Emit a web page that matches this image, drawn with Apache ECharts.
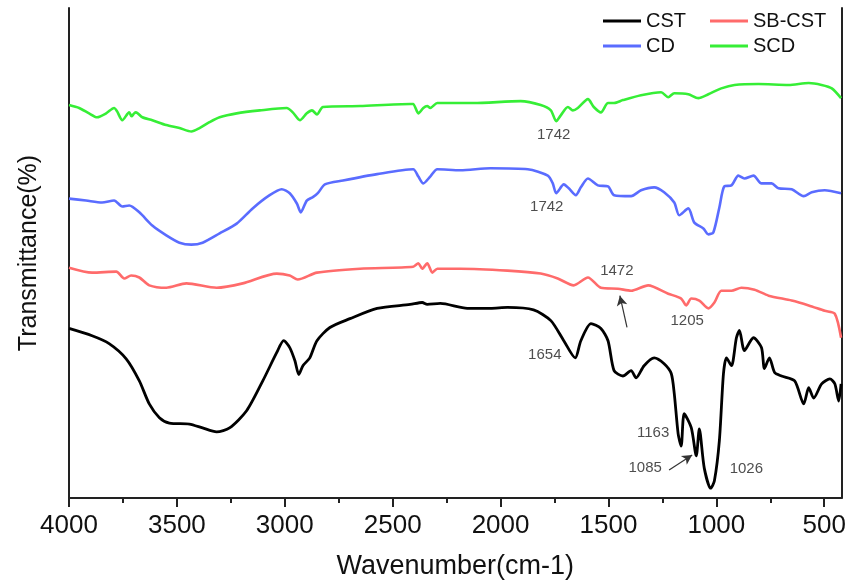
<!DOCTYPE html>
<html>
<head>
<meta charset="utf-8">
<script src="https://cdn.jsdelivr.net/npm/echarts@6/dist/echarts.min.js"></script>
<style>html,body{margin:0;padding:0;background:#fff}#c{width:847px;height:580px}</style>
</head>
<body>
<div id="c"></div>
<script>
// ---- data (wavenumber cm-1, transmittance in arbitrary offset units) ----
var tickValues = [4000, 3500, 3000, 2500, 2000, 1500, 1000, 500];
var minorTickValues = [3750, 3250, 2750, 2250, 1750, 1250, 750];

var cstWn = [4000,3893,3814,3735,3674,3628,3581,3535,3442,3381,3316,3256,3177,3102,3037,3005,2977,2953,2935,2916,2884,2851,2791,2698,2572,2419,2363,2340,2279,2154,2047,1968,1847,1767,1707,1654,1628,1581,1535,1502,1474,1433,1395,1372,1335,1288,1242,1209,1195,1177,1163,1149,1116,1093,1079,1056,1026,1009,986,967,953,930,907,893,870,828,791,777,754,730,698,637,595,572,549,512,474,451,433,422];
var cstT = [34.6,33.1,31.5,28.4,23.9,19.2,16.4,15.3,15.1,14.3,13.5,14.3,17.8,23.9,29.7,32.1,30.7,28.0,25.2,27.0,28.6,32.1,34.8,36.6,38.7,39.5,39.9,39.5,39.7,38.7,38.7,38.9,38.4,36.2,32.1,28.6,32.1,35.6,34.6,32.1,26.0,24.9,26.0,24.5,27.0,28.6,27.4,25.4,21.3,13.1,10.6,17.2,14.3,8.6,14.1,6.1,2.0,3.5,11.7,25.4,28.6,27.0,32.7,34.2,30.1,32.7,30.7,26.4,28.6,25.6,24.9,23.9,19.2,22.5,20.4,23.3,24.3,23.3,19.8,23.3];

var sbcstWn = [4000,3893,3781,3744,3712,3674,3628,3549,3456,3316,3195,3037,2977,2940,2851,2651,2405,2381,2363,2340,2316,2293,2186,1968,1814,1735,1661,1595,1535,1456,1395,1316,1223,1163,1140,1116,1079,1037,1009,977,930,884,823,758,651,572,498,451,422];
var sbcstT = [47.0,46.0,46.2,44.8,45.4,45.0,43.4,42.9,43.8,42.9,43.8,45.8,45.4,44.6,46.0,46.8,47.2,47.9,46.8,47.9,46.0,46.8,46.8,46.4,45.8,44.8,43.4,45.0,42.9,42.7,42.3,43.4,41.7,40.7,39.3,40.7,40.3,38.7,39.9,42.3,42.3,42.9,42.5,41.3,40.3,39.3,38.2,37.6,32.7];

var cdWn = [4000,3921,3847,3791,3753,3721,3674,3614,3549,3488,3433,3381,3302,3223,3149,3070,3014,2977,2944,2926,2898,2870,2847,2814,2730,2572,2405,2381,2358,2326,2293,2186,2047,1874,1781,1758,1742,1707,1684,1651,1628,1595,1549,1502,1474,1395,1349,1288,1242,1195,1172,1130,1102,1060,1037,1014,986,963,930,898,870,828,791,744,712,651,595,558,498,422];
var cdT = [61.1,60.7,60.3,60.7,59.5,59.7,58.3,55.6,53.6,52.1,51.7,52.1,54.0,56.0,59.1,61.8,63.0,62.2,60.1,58.3,60.7,61.4,62.2,64.0,64.8,66.1,67.1,65.6,64.2,65.6,67.1,66.9,67.3,67.1,65.8,64.2,62.2,64.0,63.2,61.8,63.4,65.2,63.8,63.6,61.8,61.6,62.8,63.4,62.4,60.3,57.7,59.1,56.2,55.0,53.8,54.2,59.3,63.6,63.8,65.8,65.2,65.8,64.2,64.2,63.2,63.0,61.6,62.4,62.8,62.2];

var scdWn = [4000,3953,3907,3870,3828,3791,3777,3753,3721,3710,3698,3690,3660,3614,3549,3488,3433,3395,3349,3302,3223,3116,2991,2963,2930,2898,2874,2851,2823,2651,2419,2405,2381,2358,2340,2326,2293,2186,2126,1907,1814,1767,1742,1721,1688,1665,1642,1595,1568,1535,1502,1474,1433,1349,1256,1223,1195,1130,1084,1037,977,916,805,665,572,512,465,422];
var scdT = [80.2,79.6,78.5,77.7,78.5,79.6,78.9,77.1,78.7,77.9,78.5,78.7,77.7,77.1,76.1,75.5,74.8,75.5,76.7,77.7,78.5,79.1,79.6,78.7,77.1,78.5,79.1,78.3,79.8,80.0,80.4,80.4,78.5,79.6,80.0,79.6,80.6,80.6,80.6,81.0,80.2,79.1,76.9,78.1,79.8,79.1,79.6,81.4,79.8,78.7,80.6,80.6,81.2,82.2,82.8,81.8,82.6,82.4,81.6,82.4,83.6,84.3,84.5,84.3,84.7,84.3,83.6,81.6];

// peak annotations (text, wavenumber, transmittance)
var annoText = ['1742','1742','1472','1205','1654','1163','1085','1026'];
var annoWn   = [1754, 1786, 1461, 1135, 1795, 1293, 1330, 861];
var annoT    = [74.2, 59.5, 46.4, 36.2, 29.2, 13.3, 6.1, 5.9];
// arrows: [fromWn, fromT, toWn, toT]
var arrows = [[1414, 34.8, 1447, 41.3], [1219, 5.7, 1112, 8.8]];

function pairs(wn, t) { return wn.map(function (w, i) { return [w, t[i]]; }); }

var FONT = 'Liberation Sans, Arial, sans-serif';
var chart = echarts.init(document.getElementById('c'));

function lineSeries(name, wn, t, color, width) {
  return {
    name: name, type: 'line', data: pairs(wn, t), showSymbol: false, smooth: 0.25,
    lineStyle: { color: color, width: width }, itemStyle: { color: color },
    silent: true, animation: false, z: 3
  };
}

var option = {
  animation: false,
  backgroundColor: '#ffffff',
  grid: { left: 69, right: 5.5, top: 8, bottom: 82, containLabel: false, outerBoundsMode: 'none' },
  legend: [
    { data: ['CST', 'CD'], orient: 'vertical', left: 603, top: 11, padding: 0, itemGap: 5,
      icon: 'rect', itemWidth: 38, itemHeight: 3, itemTextGap: 7,
      textStyle: { fontFamily: FONT, fontSize: 20, color: '#111' } },
    { data: ['SB-CST', 'SCD'], orient: 'vertical', left: 710, top: 11, padding: 0, itemGap: 5,
      icon: 'rect', itemWidth: 38, itemHeight: 3, itemTextGap: 7,
      textStyle: { fontFamily: FONT, fontSize: 20, color: '#111' } }
  ],
  xAxis: [
    { type: 'value', position: 'bottom', min: 420, max: 4000, inverse: true,
      name: 'Wavenumber(cm-1)', nameLocation: 'middle', nameGap: 55,
      nameTextStyle: { fontFamily: FONT, fontSize: 27, color: '#111' },
      axisLine: { show: true, lineStyle: { color: '#222', width: 2 } },
      axisTick: { show: true, inside: false, length: 9, customValues: tickValues, lineStyle: { color: '#222', width: 2 } },
      axisLabel: { show: true, margin: 15, customValues: tickValues, formatter: function (v) { return String(v); },
                   fontFamily: FONT, fontSize: 26, color: '#111' },
      splitLine: { show: false } },
    { type: 'value', position: 'bottom', min: 420, max: 4000, inverse: true,
      axisLine: { show: false },
      axisTick: { show: true, inside: false, length: 5, customValues: minorTickValues, lineStyle: { color: '#222', width: 2 } },
      axisLabel: { show: false }, splitLine: { show: false } }
  ],
  yAxis: [
    { type: 'value', position: 'left', min: 0, max: 100,
      name: 'Transmittance(%)', nameLocation: 'middle', nameGap: 27,
      nameTextStyle: { fontFamily: FONT, fontSize: 25, color: '#111' },
      axisLine: { show: true, lineStyle: { color: '#222', width: 2 } },
      axisTick: { show: false }, axisLabel: { show: false }, splitLine: { show: false } },
    { type: 'value', position: 'right', min: 0, max: 100,
      axisLine: { show: true, lineStyle: { color: '#222', width: 2 } },
      axisTick: { show: false }, axisLabel: { show: false }, splitLine: { show: false } }
  ],
  series: [
    lineSeries('CST', cstWn, cstT, '#000000', 2.8),
    lineSeries('SB-CST', sbcstWn, sbcstT, '#ff6b6b', 2.6),
    lineSeries('CD', cdWn, cdT, '#5a6cff', 2.6),
    lineSeries('SCD', scdWn, scdT, '#36ee36', 2.6),
    {
      name: 'notes', type: 'scatter', symbolSize: 0, silent: true, z: 5,
      data: annoText.map(function (s, i) { return [annoWn[i], annoT[i], s]; }),
      label: { show: true, position: 'inside', formatter: function (p) { return p.data[2]; },
               fontFamily: FONT, fontSize: 15, color: '#222' },
      markLine: {
        silent: true, symbol: ['none', 'arrow'], symbolSize: [8, 10],
        label: { show: false },
        lineStyle: { color: '#333', width: 1.2, type: 'solid' },
        data: arrows.map(function (a) { return [{ coord: [a[0], a[1]] }, { coord: [a[2], a[3]] }]; })
      }
    }
  ]
};
chart.setOption(option);
</script>
</body>
</html>
